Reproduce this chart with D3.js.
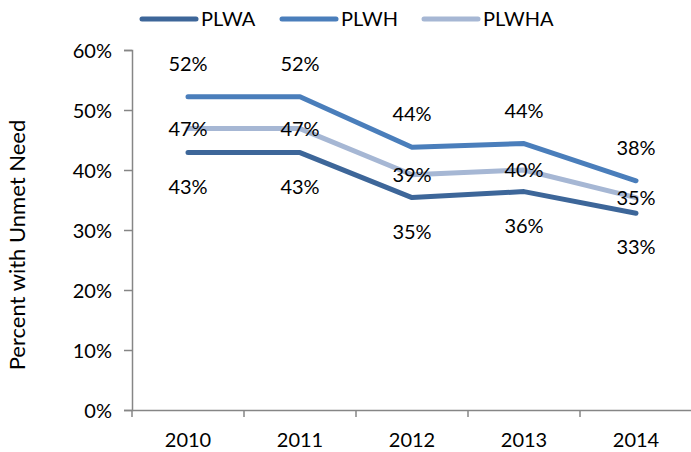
<!DOCTYPE html>
<html>
<head>
<meta charset="utf-8">
<script src="https://cdn.jsdelivr.net/npm/d3@7"></script>
<style>
  body { margin: 0; background: #fff; }
  text { font-family: Lato, "Open Sans", sans-serif; fill: #000; }
</style>
</head>
<body>
<script>
// data
var years = ["2010", "2011", "2012", "2013", "2014"];
var seriesNames = ["PLWA", "PLWH", "PLWHA"];
var plwa = [0.429, 0.429, 0.354, 0.364, 0.328];
var plwh = [0.522, 0.522, 0.438, 0.444, 0.382];
var plwha = [0.469, 0.469, 0.392, 0.400, 0.354];
var yTicks = [0, 0.1, 0.2, 0.3, 0.4, 0.5, 0.6];

var colors = {PLWA: "#3d6699", PLWH: "#4a7ebb", PLWHA: "#a6b7d4"};
// label offset: above, centered, below
var labelDy = {PLWA: 41, PLWH: -26, PLWHA: 7};

var series = [
  {name: "PLWA", values: plwa},
  {name: "PLWH", values: plwh},
  {name: "PLWHA", values: plwha}
];

var width = 691, height = 452;
var svg = d3.select("body").append("svg")
    .attr("width", width)
    .attr("height", height);

var x = d3.scaleBand().domain(years).range([132, 692]).padding(0);
var y = d3.scaleLinear().domain([0, 0.6]).range([410, 50]);

var axisColor = "#868686";

// y axis
var yAxis = svg.append("g")
    .attr("transform", "translate(132,0)")
    .call(d3.axisLeft(y).tickValues(yTicks).tickFormat(d3.format(".0%")).tickSize(8).tickPadding(12));
yAxis.select(".domain").attr("stroke", axisColor).attr("stroke-width", 1.5);
yAxis.selectAll(".tick line").attr("stroke", axisColor).attr("stroke-width", 1.5);
yAxis.selectAll(".tick text").style("font-size", "20px").attr("fill", "#000").attr("dy", "0.36em");

// x axis
var xAxis = svg.append("g")
    .attr("transform", "translate(0,410)")
    .call(d3.axisBottom(x).tickSize(0).tickPadding(23));
xAxis.select(".domain").attr("stroke", axisColor).attr("stroke-width", 1.5);
xAxis.selectAll(".tick text").style("font-size", "20px").attr("fill", "#000");
// tick marks between categories
xAxis.selectAll(".sep")
    .data(years)
    .enter().append("line")
    .attr("class", "sep")
    .attr("x1", function(d) { return x(d); })
    .attr("x2", function(d) { return x(d); })
    .attr("y1", 0)
    .attr("y2", 7)
    .attr("stroke", axisColor)
    .attr("stroke-width", 1.5);

// axis title
svg.append("text")
    .attr("transform", "translate(25,245) rotate(-90)")
    .attr("text-anchor", "middle")
    .style("font-size", "22px")
    .text("Percent with Unmet Need");

// lines
var line = d3.line()
    .x(function(d, i) { return x(years[i]) + x.bandwidth() / 2; })
    .y(function(d) { return y(d); });

svg.selectAll(".series")
    .data(series)
    .enter().append("path")
    .attr("class", "series")
    .attr("d", function(s) { return line(s.values); })
    .attr("fill", "none")
    .attr("stroke", function(s) { return colors[s.name]; })
    .attr("stroke-width", 5)
    .attr("stroke-linecap", "round")
    .attr("stroke-linejoin", "round");

// data labels
series.forEach(function(s) {
  svg.selectAll(".lbl-" + s.name)
      .data(s.values)
      .enter().append("text")
      .attr("class", "lbl-" + s.name)
      .attr("x", function(d, i) { return x(years[i]) + x.bandwidth() / 2; })
      .attr("y", function(d) { return y(d) + labelDy[s.name]; })
      .attr("text-anchor", "middle")
      .style("font-size", "20px")
      .text(function(d) { return d3.format(".0%")(d); });
});

// legend
var legendX = [142, 282, 424];
var legend = svg.selectAll(".legend")
    .data(seriesNames)
    .enter().append("g")
    .attr("class", "legend")
    .attr("transform", function(d, i) { return "translate(" + legendX[i] + ",19)"; });
legend.append("line")
    .attr("x1", 0).attr("x2", 54)
    .attr("stroke", function(d) { return colors[d]; })
    .attr("stroke-width", 5)
    .attr("stroke-linecap", "round");
legend.append("text")
    .attr("x", 59)
    .attr("y", 7)
    .style("font-size", "20px")
    .text(function(d) { return d; });
</script>
</body>
</html>
